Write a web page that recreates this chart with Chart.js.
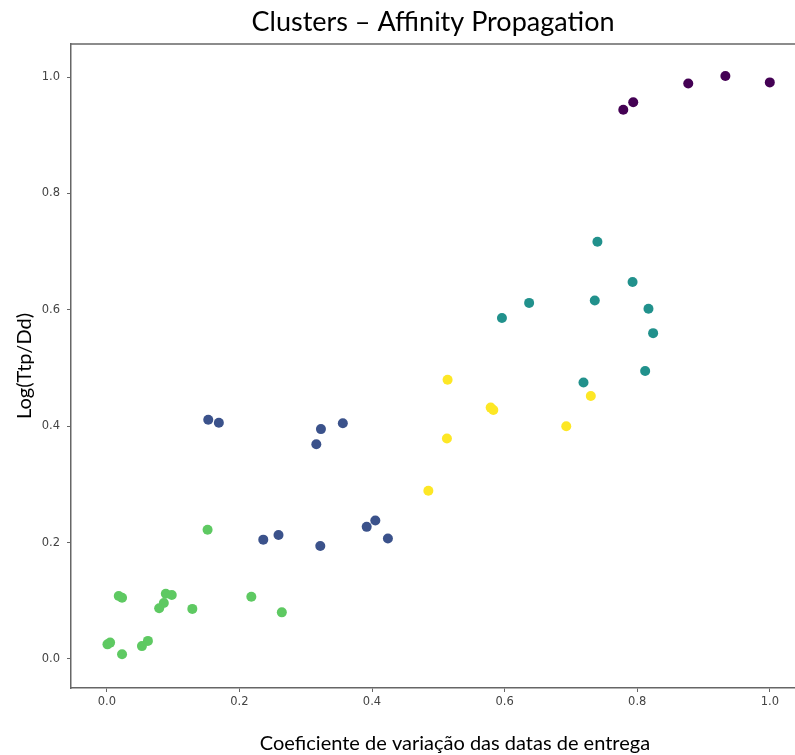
<!DOCTYPE html>
<html>
<head>
<meta charset="utf-8">
<script src="https://cdn.jsdelivr.net/npm/chart.js@4"></script>
<style>
  html, body { margin: 0; padding: 0; background: #ffffff; }
  #wrap { width: 795px; height: 755px; }
</style>
</head>
<body>
<div id="wrap"><canvas id="c" width="795" height="755"></canvas></div>
<script>
// ---- data ----
const chartTitle = "Clusters \u2013 Affinity Propagation";
const xLabel = "Coeficiente de variação das datas de entrega";
const yLabel = "Log(Ttp/Dd)";
const xTicks = [0.0, 0.2, 0.4, 0.6, 0.8, 1.0];
const yTicks = [0.0, 0.2, 0.4, 0.6, 0.8, 1.0];

const cluster0X = [0.779, 0.794, 0.877, 0.933, 1.000];
const cluster0Y = [0.944, 0.957, 0.989, 1.002, 0.991];

const cluster1X = [0.153, 0.169, 0.323, 0.356, 0.316, 0.236, 0.259, 0.322, 0.392, 0.405, 0.424];
const cluster1Y = [0.411, 0.406, 0.395, 0.405, 0.369, 0.205, 0.213, 0.194, 0.227, 0.238, 0.207];

const cluster2X = [0.740, 0.793, 0.736, 0.817, 0.637, 0.596, 0.824, 0.812, 0.719];
const cluster2Y = [0.717, 0.648, 0.616, 0.602, 0.612, 0.586, 0.560, 0.495, 0.475];

const cluster3X = [0.152, 0.218, 0.264, 0.018, 0.023, 0.089, 0.098, 0.086, 0.079, 0.129, 0.001, 0.005, 0.023, 0.053, 0.062];
const cluster3Y = [0.222, 0.107, 0.080, 0.108, 0.105, 0.112, 0.110, 0.096, 0.087, 0.086, 0.025, 0.028, 0.008, 0.022, 0.031];

const cluster4X = [0.514, 0.579, 0.583, 0.730, 0.693, 0.513, 0.485];
const cluster4Y = [0.480, 0.432, 0.428, 0.452, 0.400, 0.379, 0.289];

const clusterColors = ["#440154", "#3b528b", "#21918c", "#5ec962", "#fde725"];

// ---- build ----
function pts(xs, ys) { return xs.map((x, i) => ({ x: x, y: ys[i] })); }
const clusters = [
  [cluster0X, cluster0Y], [cluster1X, cluster1Y], [cluster2X, cluster2Y],
  [cluster3X, cluster3Y], [cluster4X, cluster4Y]
];
const datasets = clusters.map((c, i) => ({
  label: "Cluster " + i,
  data: pts(c[0], c[1]),
  backgroundColor: clusterColors[i],
  borderColor: clusterColors[i],
  borderWidth: 0,
  pointRadius: 5,
  pointHoverRadius: 5
}));

const spineColor = "#666666";
const labelFont = { family: "Lato", size: 20 };
const tickFont = { family: "DejaVu Sans", size: 11.5 };

const framePlugin = {
  id: "frame",
  afterDraw(chart) {
    const a = chart.chartArea, ctx = chart.ctx;
    ctx.save();
    ctx.strokeStyle = spineColor;
    ctx.lineWidth = 1.5;
    ctx.beginPath();
    ctx.moveTo(a.left, a.top);
    ctx.lineTo(a.right, a.top);
    ctx.stroke();
    // x-axis label (offset to the right as in the reference)
    ctx.fillStyle = "#000000";
    ctx.font = labelFont.size + "px " + labelFont.family;
    ctx.textAlign = "center";
    ctx.textBaseline = "middle";
    ctx.fillText(xLabel, 455, 744);
    ctx.restore();
  }
};

new Chart(document.getElementById("c"), {
  type: "scatter",
  data: { datasets: datasets },
  plugins: [framePlugin],
  options: {
    responsive: false,
    animation: false,
    layout: { autoPadding: false, padding: 0 },
    plugins: {
      legend: { display: false },
      tooltip: { enabled: false },
      title: {
        display: true,
        fullSize: false,
        text: chartTitle,
        color: "#000000",
        font: { family: "Lato", size: 27, weight: "normal" },
        padding: { top: 6, bottom: 5.6 }
      }
    },
    scales: {
      x: {
        type: "linear",
        min: -0.054,
        max: 1.038,
        afterBuildTicks: s => { s.ticks = xTicks.map(v => ({ value: v })); },
        afterFit: s => { s.height = 67; s.paddingLeft = 0; s.paddingRight = 0; },
        grid: { display: true, drawOnChartArea: false, drawTicks: true, tickLength: 4, color: spineColor },
        border: { display: true, color: spineColor, width: 1.5 },
        ticks: { font: tickFont, color: "#444444", padding: 3, maxRotation: 0, callback: v => Number(v).toFixed(1) },
        title: { display: false }
      },
      y: {
        type: "linear",
        min: -0.050,
        max: 1.057,
        afterBuildTicks: s => { s.ticks = yTicks.map(v => ({ value: v })); },
        afterFit: s => { s.width = 71; s.paddingTop = 0; s.paddingBottom = 0; },
        grid: { display: true, drawOnChartArea: false, drawTicks: true, tickLength: 4, color: spineColor },
        border: { display: true, color: spineColor, width: 1.5 },
        ticks: { font: tickFont, color: "#444444", padding: 7, callback: v => Number(v).toFixed(1) },
        title: { display: true, text: yLabel, color: "#000000", font: labelFont, padding: { top: 13, bottom: 0 } }
      }
    }
  }
});
</script>
</body>
</html>
